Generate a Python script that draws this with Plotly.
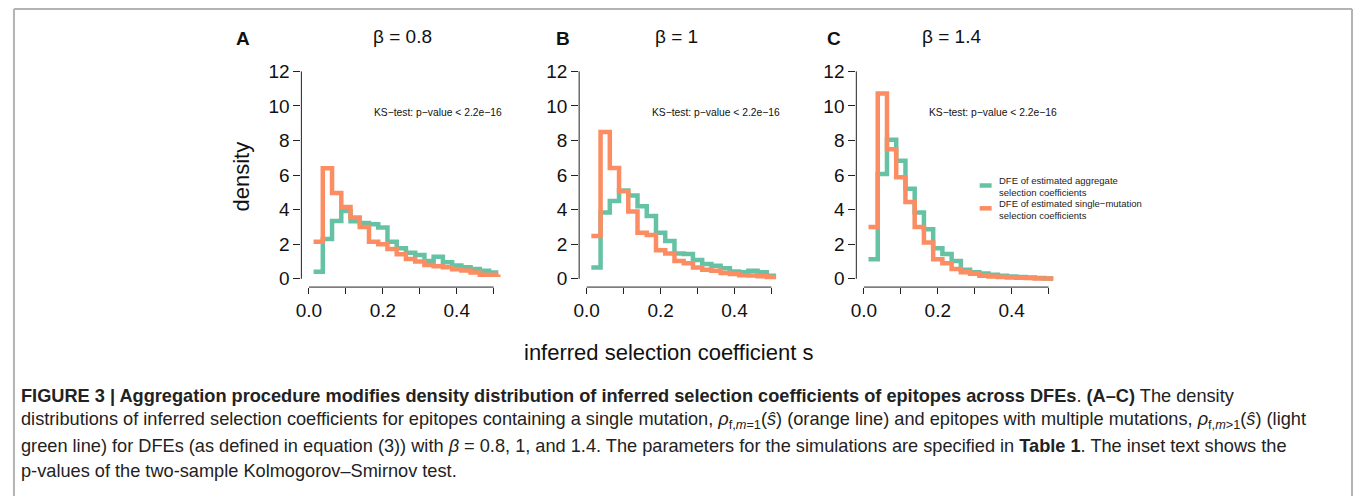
import plotly.graph_objects as go

W, H = 1354, 496

# ---- data -----------------------------------------------------------
# bin midpoints (histogram step positions)
s_mids = [0.0125 + 0.025 * i for i in range(21)]

green_A = [0.40, 2.30, 3.35, 3.92, 3.33, 3.23, 3.16, 2.97, 2.14, 1.76,
           1.51, 1.38, 1.03, 1.28, 0.96, 0.77, 0.67, 0.57, 0.46, 0.36, 0.36]
orange_A = [2.15, 6.39, 4.96, 4.15, 3.54, 3.00, 2.14, 2.00, 1.72, 1.42,
            1.15, 1.00, 0.80, 0.73, 0.67, 0.55, 0.48, 0.36, 0.23, 0.23, 0.25]

green_B = [0.65, 3.83, 4.50, 5.11, 4.82, 4.19, 3.64, 2.66, 2.18, 1.47,
           1.44, 1.09, 0.86, 0.75, 0.61, 0.42, 0.38, 0.46, 0.38, 0.17, 0.17]
orange_B = [2.47, 8.50, 6.41, 5.07, 3.90, 2.66, 2.53, 1.65, 1.47, 1.03,
            0.90, 0.65, 0.52, 0.46, 0.33, 0.27, 0.21, 0.19, 0.15, 0.10, 0.10]

green_C = [1.13, 6.07, 8.04, 6.83, 5.21, 3.83, 2.87, 1.76, 1.44, 1.03,
           0.52, 0.38, 0.31, 0.23, 0.17, 0.13, 0.11, 0.08, 0.04, 0.02, 0.02]
orange_C = [3.00, 10.72, 7.50, 5.88, 4.44, 3.00, 2.10, 1.13, 0.90, 0.57,
            0.38, 0.29, 0.17, 0.13, 0.11, 0.08, 0.06, 0.04, 0.02, 0.02, 0.02]

panel_letters = ["A", "B", "C"]
betas = ["0.8", "1", "1.4"]
ks_text = "KS\u2212test: p\u2212value < 2.2e\u221216"
x_tickvals = [0, 0.2, 0.4]
x_ticktext = ["0.0", "0.2", "0.4"]
x_minor_ticks = [0.1, 0.3, 0.5]
y_tickvals = [0, 2, 4, 6, 8, 10, 12]
legend_labels = ["DFE of estimated aggregate<br>selection coefficients",
                 "DFE of estimated single\u2212mutation<br>selection coefficients"]

GREEN = "#66c2a5"
ORANGE = "#fc8d62"
FONT = "Liberation Sans, Arial, Helvetica, sans-serif"


def px(x):
    return x / W


def py(y):
    return 1 - y / H


# ---- layout geometry --------------------------------------------------
x_domains = [(296.7, 502.1), (575.7, 781.1), (854.1, 1059.5)]
y_dom = (py(287.4), py(61.6))
x_range = [-0.0205, 0.533]
y_range = [-0.48, 12.48]

fig = go.Figure()
panels = [(green_A, orange_A), (green_B, orange_B), (green_C, orange_C)]

shapes = []
annotations = []
for i, (g, o) in enumerate(panels):
    k = "" if i == 0 else str(i + 1)
    xa, ya = "x" + k, "y" + k
    fig.add_trace(go.Scatter(x=s_mids, y=g, mode="lines", line_shape="hv",
                             line=dict(color=GREEN, width=4.5),
                             xaxis=xa, yaxis=ya, showlegend=False))
    fig.add_trace(go.Scatter(x=s_mids, y=o, mode="lines", line_shape="hv",
                             line=dict(color=ORANGE, width=4.5),
                             xaxis=xa, yaxis=ya, showlegend=False))
    d0, d1 = x_domains[i]
    fig.update_layout(**{
        "xaxis" + k: dict(domain=[px(d0), px(d1)], range=x_range, anchor=ya,
                          tickvals=x_tickvals, ticktext=x_ticktext,
                          ticks="outside", ticklen=6, tickwidth=1, tickcolor="#222",
                          minor=dict(tickvals=x_minor_ticks, ticks="outside",
                                     ticklen=6, tickwidth=1, tickcolor="#222",
                                     showgrid=False),
                          showline=False, showgrid=False, zeroline=False,
                          tickfont=dict(family=FONT, size=19, color="#111")),
        "yaxis" + k: dict(domain=list(y_dom), range=y_range, anchor=xa,
                          tickvals=y_tickvals, ticks="outside", ticklen=7,
                          tickwidth=1, tickcolor="#222",
                          showline=False, showgrid=False, zeroline=False,
                          tickfont=dict(family=FONT, size=19, color="#111")),
    })
    # R-style axis lines only between first and last tick
    shapes.append(dict(type="line", xref=xa, yref=ya + " domain",
                       x0=0, x1=0.5, y0=0, y1=0,
                       line=dict(color="#222", width=1)))
    shapes.append(dict(type="line", xref=xa + " domain", yref=ya,
                       x0=0, x1=0, y0=0, y1=12,
                       line=dict(color="#222", width=1)))
    # KS text
    annotations.append(dict(x=0.35, y=9.65, xref=xa, yref=ya, text=ks_text,
                            showarrow=False, xanchor="center", yanchor="middle",
                            font=dict(family=FONT, size=10.3, color="#111")))
    # panel letters and beta titles
    letter_x = [238, 559, 832][i]
    annotations.append(dict(x=px(letter_x), y=py(37), xref="paper", yref="paper",
                            text="<b>%s</b>" % panel_letters[i], showarrow=False,
                            xanchor="center", yanchor="middle",
                            font=dict(family=FONT, size=19, color="#111")))
    title_x = [398, 673, 950][i]
    annotations.append(dict(x=px(title_x), y=py(35), xref="paper", yref="paper",
                            text="\u03b2 = " + betas[i], showarrow=False,
                            xanchor="center", yanchor="middle",
                            font=dict(family=FONT, size=19, color="#111")))

# axis titles
annotations.append(dict(x=px(237), y=py(176), xref="paper", yref="paper",
                        text="density", textangle=-90, showarrow=False,
                        xanchor="center", yanchor="middle",
                        font=dict(family=FONT, size=22, color="#111")))
annotations.append(dict(x=px(665), y=py(353), xref="paper", yref="paper",
                        text="inferred selection coefficient s", showarrow=False,
                        xanchor="center", yanchor="middle",
                        font=dict(family=FONT, size=22, color="#111")))

# legend (drawn manually, R style)
for j, (col, lab) in enumerate(zip([GREEN, ORANGE], legend_labels)):
    yc = [185, 208][j]
    shapes.append(dict(type="line", xref="paper", yref="paper",
                       x0=px(978), x1=px(990), y0=py(yc), y1=py(yc),
                       line=dict(color=col, width=4.5)))
    annotations.append(dict(x=px(995), y=py(yc + 1), xref="paper", yref="paper",
                            text=lab, showarrow=False, xanchor="left",
                            yanchor="middle", align="left",
                            font=dict(family=FONT, size=9.5, color="#222")))

# caption
CAP = "Liberation Sans, Arial, sans-serif"
cap_lines = [
    "<b>FIGURE 3 | Aggregation procedure modifies density distribution of inferred selection coefficients of epitopes across DFEs</b>. <b>(A\u2013C)</b> The density",
    "distributions of inferred selection coefficients for epitopes containing a single mutation, <i>\u03c1</i><sub>f,<i>m</i>=1</sub>(<i>\u015d</i>) (orange line) and epitopes with multiple mutations, <i>\u03c1</i><sub>f,<i>m</i>>1</sub>(<i>\u015d</i>) (light",
    "green line) for DFEs (as defined in equation (3)) with <i>\u03b2</i> = 0.8, 1, and 1.4. The parameters for the simulations are specified in <b>Table 1</b>. The inset text shows the",
    "p-values of the two-sample Kolmogorov\u2013Smirnov test.",
]
cap_y = [397, 422, 448, 473]
for t, yy in zip(cap_lines, cap_y):
    annotations.append(dict(x=px(13), y=py(yy), xref="paper", yref="paper",
                            text=t, showarrow=False, xanchor="left",
                            yanchor="middle", align="left",
                            font=dict(family=CAP, size=18.2, color="#222")))

# frame
frame_col = "#b3b3b3"
shapes.append(dict(type="line", xref="paper", yref="paper", x0=px(8), x1=px(1352),
                   y0=py(7), y1=py(7), line=dict(color=frame_col, width=2)))
shapes.append(dict(type="line", xref="paper", yref="paper", x0=px(8), x1=px(8),
                   y0=py(7), y1=py(500), line=dict(color=frame_col, width=2)))
shapes.append(dict(type="line", xref="paper", yref="paper", x0=px(1352), x1=px(1352),
                   y0=py(7), y1=py(500), line=dict(color=frame_col, width=2)))

fig.update_layout(width=W, height=H, margin=dict(l=0, r=0, t=0, b=0),
                  paper_bgcolor="white", plot_bgcolor="white",
                  shapes=shapes, annotations=annotations, showlegend=False)

fig.write_html("out.html")
